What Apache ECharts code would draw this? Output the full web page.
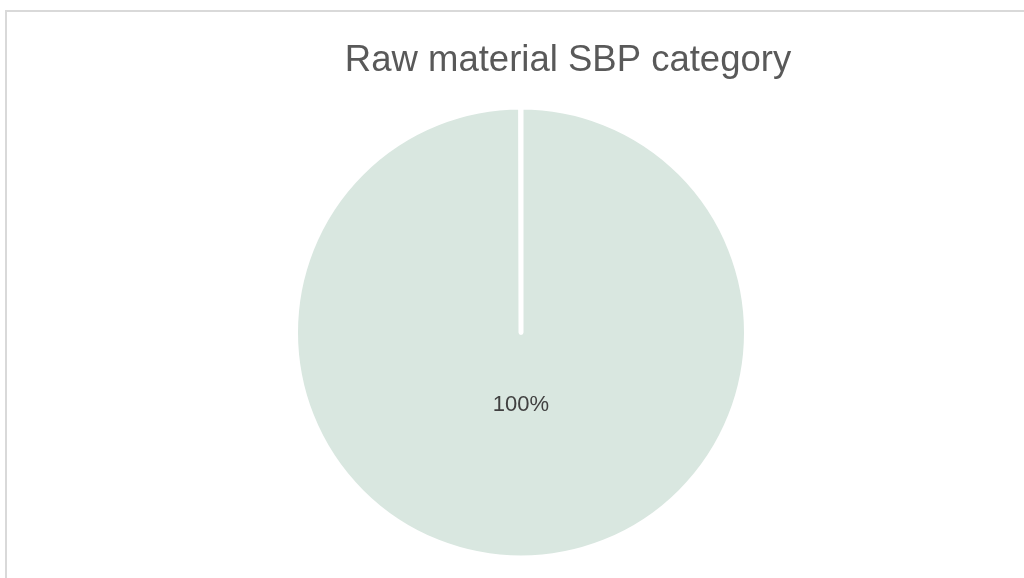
<!DOCTYPE html>
<html>
<head>
<meta charset="utf-8">
<script src="https://cdn.jsdelivr.net/npm/echarts@6/dist/echarts.min.js"></script>
<style>
  html, body { margin: 0; padding: 0; background: #ffffff; }
  #frame { position: absolute; left: 5px; top: 10px; width: 1200px; height: 700px; border: 2px solid #d9d9d9; box-sizing: border-box; }
  #chart { position: absolute; left: 0; top: 0; width: 1024px; height: 578px; }
</style>
</head>
<body>
<div id="frame"></div>
<div id="chart"></div>
<script>
const titleText = 'Raw material SBP category';
const categories = ['SBP'];
const values = [100];

const chart = echarts.init(document.getElementById('chart'), null, { renderer: 'canvas' });
chart.setOption({
  backgroundColor: 'transparent',
  animation: false,
  title: {
    text: titleText,
    left: 563,
    top: 37,
    textAlign: 'center',
    textStyle: { fontFamily: 'Liberation Sans', fontSize: 36.5, fontWeight: 'normal', color: '#595959' }
  },
  series: [{
    type: 'pie',
    center: [521, 332.5],
    radius: [0, 225.5],
    startAngle: 90,
    endAngle: -269.9,
    clockwise: true,
    silent: true,
    itemStyle: { color: '#d9e7e0', borderColor: '#ffffff', borderWidth: 5 },
    label: {
      show: true,
      position: 'center',
      formatter: '{s| }\n{v|{d}%}',
      rich: {
        s: { lineHeight: 144, fontSize: 10 },
        v: { lineHeight: 26, fontFamily: 'Liberation Sans', fontSize: 22, color: '#404040' }
      }
    },
    labelLine: { show: false },
    data: categories.map((c, i) => ({ name: c, value: values[i] }))
  }]
});
</script>
</body>
</html>
